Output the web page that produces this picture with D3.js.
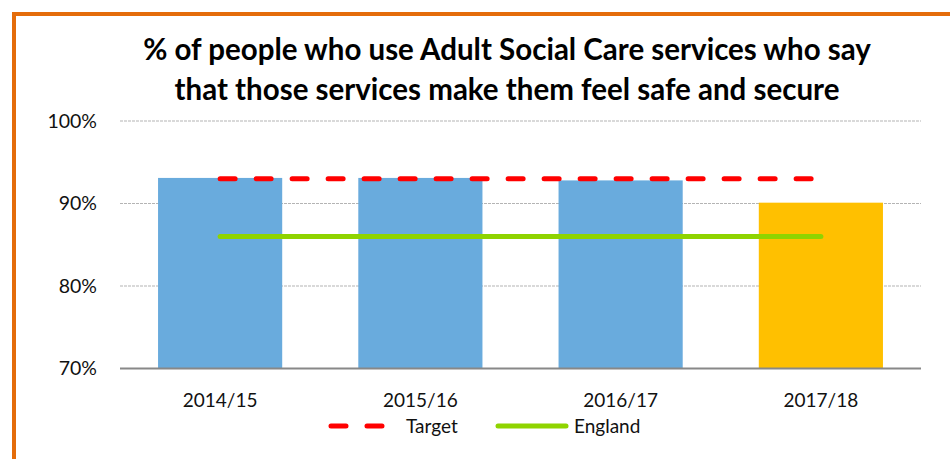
<!DOCTYPE html>
<html>
<head>
<meta charset="utf-8">
<script src="https://cdn.jsdelivr.net/npm/d3@7"></script>
<style>
	body { margin: 0; background: white; }
	svg { display: block; font-family: Lato, "Open Sans", sans-serif; }
</style>
</head>
<body>
<svg id="chart" width="950" height="459"></svg>
<script>
var years = ["2014/15", "2015/16", "2016/17", "2017/18"];
var values = [93.1, 93.1, 92.8, 90.1];
var barColors = ["#69abdd", "#69abdd", "#69abdd", "#ffc000"];
var target = [93, 93, 93, 93];
var england = [86, 86, 86, 86];
var yTicks = [70, 80, 90, 100];
var titleLines = ["% of people who use Adult Social Care services who say",
	"that those services make them feel safe and secure"];

var svg = d3.select("#chart");
var plot = { left: 120, right: 921, top: 121, bottom: 368.5 };

// orange frame, runs off the right and bottom edges
svg.append("rect")
	.attr("x", 14).attr("y", 14)
	.attr("width", 1000).attr("height", 1000)
	.attr("fill", "none")
	.attr("stroke", "#e46c0a")
	.attr("stroke-width", 4);

var x = d3.scaleBand().domain(years).range([plot.left, plot.right]).paddingInner(0.38).paddingOuter(0.19);
var xc = d3.scalePoint().domain(years).range([plot.left, plot.right]).padding(0.5);
var y = d3.scaleLinear().domain([70, 100]).range([plot.bottom, plot.top]);

// gridlines
svg.append("g").selectAll("line")
	.data(yTicks.slice(1))
	.join("line")
	.attr("x1", plot.left).attr("x2", plot.right)
	.attr("y1", function(d) { return y(d); }).attr("y2", function(d) { return y(d); })
	.attr("stroke", "#b4b4b4")
	.attr("stroke-width", 1.2)
	.attr("stroke-dasharray", "3,1");

// y labels
svg.append("g").selectAll("text")
	.data(yTicks)
	.join("text")
	.attr("x", 97)
	.attr("y", function(d) { return y(d); })
	.attr("dy", "0.35em")
	.attr("text-anchor", "end")
	.attr("font-size", 19.5)
	.attr("fill", "#111")
	.text(function(d) { return d + "%"; });

// bars
svg.append("g").selectAll("rect")
	.data(values)
	.join("rect")
	.attr("x", function(d, i) { return x(years[i]); })
	.attr("width", x.bandwidth())
	.attr("y", function(d) { return y(d); })
	.attr("height", function(d) { return y(70) - y(d); })
	.attr("fill", function(d, i) { return barColors[i]; });

// baseline
svg.append("line")
	.attr("x1", plot.left).attr("x2", plot.right)
	.attr("y1", y(70)).attr("y2", y(70))
	.attr("stroke", "#888").attr("stroke-width", 2);

// x labels
svg.append("g").selectAll("text")
	.data(years)
	.join("text")
	.attr("x", function(d) { return xc(d); })
	.attr("y", 407)
	.attr("text-anchor", "middle")
	.attr("font-size", 19)
	.attr("fill", "#111")
	.text(function(d) { return d; });

var line = d3.line()
	.x(function(d, i) { return xc(years[i]); })
	.y(function(d) { return y(d); });

svg.append("path")
	.attr("d", line(england))
	.attr("fill", "none")
	.attr("stroke", "#8fd400")
	.attr("stroke-width", 5)
	.attr("stroke-linecap", "round");

svg.append("path")
	.attr("d", line(target))
	.attr("fill", "none")
	.attr("stroke", "#ff0000")
	.attr("stroke-width", 5)
	.attr("stroke-linecap", "round")
	.attr("stroke-dasharray", "15,21");

// title
svg.append("g").selectAll("text")
	.data(titleLines)
	.join("text")
	.attr("x", 507)
	.attr("y", function(d, i) { return 60 + i * 40; })
	.attr("text-anchor", "middle")
	.attr("font-size", 29.5)
	.attr("font-weight", "bold")
	.attr("fill", "#000")
	.text(function(d) { return d; });

// legend
var legend = svg.append("g");
legend.append("line")
	.attr("x1", 331).attr("x2", 383).attr("y1", 426).attr("y2", 426)
	.attr("stroke", "#ff0000").attr("stroke-width", 5)
	.attr("stroke-linecap", "round").attr("stroke-dasharray", "15,21");
legend.append("text")
	.attr("x", 406).attr("y", 426).attr("dy", "0.35em")
	.attr("font-size", 19)
	.attr("fill", "#111")
	.text("Target");
legend.append("line")
	.attr("x1", 498).attr("x2", 566).attr("y1", 426).attr("y2", 426)
	.attr("stroke", "#8fd400").attr("stroke-width", 5)
	.attr("stroke-linecap", "round");
legend.append("text")
	.attr("x", 574).attr("y", 426).attr("dy", "0.35em")
	.attr("font-size", 19)
	.attr("fill", "#111")
	.text("England");
</script>
</body>
</html>
